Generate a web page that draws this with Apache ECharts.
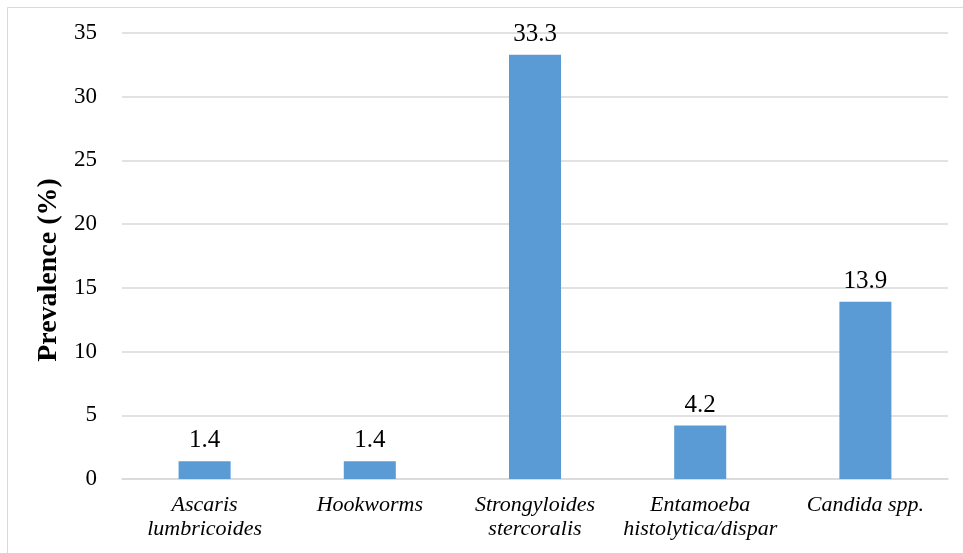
<!DOCTYPE html>
<html lang="en" style="height: 100%">
<head>
    <meta charset="UTF-8">
    <title>Prevalence</title>
    <script src="https://cdn.jsdelivr.net/npm/echarts@6/dist/echarts.min.js"></script>
</head>
<body style="height: 100%; margin: 0">
<div id="main" style="width: 963px; height: 553px"></div>
<script>
    var categories = ['Ascaris\nlumbricoides', 'Hookworms', 'Strongyloides\nstercoralis', 'Entamoeba\nhistolytica/dispar', 'Candida spp.'];
    var prevalence = [1.4, 1.4, 33.3, 4.2, 13.9];
    var yTicks = [0, 5, 10, 15, 20, 25, 30, 35];

    var serif = '"Liberation Serif", "Times New Roman", serif';
    var myChart = echarts.init(document.getElementById('main'));
    var option = {
        animation: false,
        backgroundColor: '#fff',
        graphic: [{
            type: 'rect',
            shape: {x: 7.5, y: 7.5, width: 970, height: 560},
            style: {fill: 'none', stroke: '#d9d9d9', lineWidth: 1}
        }],
        grid: {left: 122, right: 15, top: 33, bottom: 74, containLabel: false},
        xAxis: {
            type: 'category',
            data: categories,
            axisTick: {show: false},
            axisLine: {lineStyle: {color: '#d9d9d9', width: 1.5}},
            axisLabel: {
                color: '#000', fontFamily: serif, fontSize: 22, fontStyle: 'italic',
                margin: 14, lineHeight: 24, interval: 0
            }
        },
        yAxis: {
            type: 'value',
            min: yTicks[0],
            max: yTicks[yTicks.length - 1],
            interval: 5,
            name: 'Prevalence (%)',
            nameLocation: 'middle',
            nameGap: 53,
            nameTextStyle: {
                color: '#000', fontFamily: serif, fontSize: 28, fontWeight: 'bold',
                padding: [0, 28, 0, 0]
            },
            axisLine: {show: false},
            axisTick: {show: false},
            axisLabel: {color: '#000', fontFamily: serif, fontSize: 23, margin: 25},
            splitLine: {lineStyle: {color: '#d9d9d9', width: 1.5}}
        },
        series: [{
            type: 'bar',
            data: prevalence,
            barWidth: '31.5%',
            itemStyle: {color: '#5b9bd5'},
            label: {
                show: true, position: 'top', distance: 8,
                color: '#000', fontFamily: serif, fontSize: 25
            }
        }]
    };
    myChart.setOption(option);
</script>
</body>
</html>
